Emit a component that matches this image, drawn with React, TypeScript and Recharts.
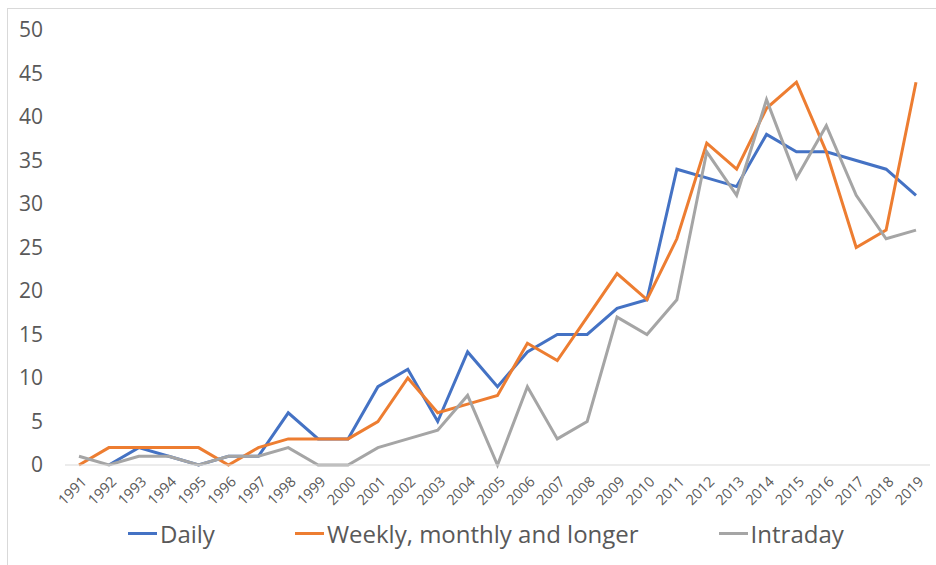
import React from 'react';
import { LineChart, Line, XAxis, YAxis, Legend } from 'recharts';

const years = [
  '1991', '1992', '1993', '1994', '1995', '1996', '1997', '1998', '1999', '2000',
  '2001', '2002', '2003', '2004', '2005', '2006', '2007', '2008', '2009', '2010',
  '2011', '2012', '2013', '2014', '2015', '2016', '2017', '2018', '2019',
];
// no Daily value for 1991 in the source
const daily = [null, 0, 2, 1, 0, 1, 1, 6, 3, 3, 9, 11, 5, 13, 9, 13, 15, 15, 18, 19, 34, 33, 32, 38, 36, 36, 35, 34, 31];
const weekly = [0, 2, 2, 2, 2, 0, 2, 3, 3, 3, 5, 10, 6, 7, 8, 14, 12, 17, 22, 19, 26, 37, 34, 41, 44, 36, 25, 27, 44];
const intraday = [1, 0, 1, 1, 0, 1, 1, 2, 0, 0, 2, 3, 4, 8, 0, 9, 3, 5, 17, 15, 19, 36, 31, 42, 33, 39, 31, 26, 27];
const yTicks = [0, 5, 10, 15, 20, 25, 30, 35, 40, 45, 50];

const SERIES = [
  { key: 'daily', name: 'Daily', color: '#4472C4' },
  { key: 'weekly', name: 'Weekly, monthly and longer', color: '#ED7D31' },
  { key: 'intraday', name: 'Intraday', color: '#A5A5A5' },
];

const FONT = '"Open Sans", "Noto Sans", sans-serif';
const TEXT = '#595959';

const chartData = years.map((year, i) => ({
  year,
  daily: daily[i],
  weekly: weekly[i],
  intraday: intraday[i],
}));

const YearTick = (props: any) => {
  const { x, y, payload } = props;
  return (
    <g transform={`translate(${x + 5},${y + 14})`}>
      <text
        textAnchor="end"
        transform="rotate(-45)"
        dy="0.35em"
        fill={TEXT}
        fontSize={14.5}
        fontFamily={FONT}
      >
        {payload.value}
      </text>
    </g>
  );
};

const LegendBox = () => (
  <div
    style={{
      display: 'flex',
      alignItems: 'center',
      height: 36,
      paddingLeft: 128,
      fontFamily: FONT,
      fontSize: 24,
      color: TEXT,
    }}
  >
    {SERIES.map((s, i) => (
      <div key={s.key} style={{ display: 'flex', alignItems: 'center', marginRight: i < 2 ? 80 : 0 }}>
        <span style={{ display: 'inline-block', width: 29, height: 3, background: s.color, marginRight: 3 }} />
        <span>{s.name}</span>
      </div>
    ))}
  </div>
);

export default function App() {
  return (
    <div style={{ position: 'absolute', left: 0, top: 0, width: 936, height: 565, overflow: 'hidden', background: '#fff' }}>
      <div
        style={{
          position: 'absolute',
          left: 7,
          top: 8,
          width: 960,
          height: 600,
          borderTop: '1px solid #D9D9D9',
          borderLeft: '1px solid #D9D9D9',
        }}
      />
      <LineChart
        width={936}
        height={565}
        data={chartData}
        margin={{ top: 30, right: 6, left: 0, bottom: 14 }}
      >
        <XAxis
          dataKey="year"
          interval={0}
          height={50}
          padding={{ left: 14, right: 14 }}
          axisLine={{ stroke: '#D9D9D9', strokeWidth: 1 }}
          tickLine={false}
          tickSize={0}
          tickMargin={0}
          tick={<YearTick />}
        />
        <YAxis
          domain={[0, 50]}
          ticks={yTicks}
          interval={0}
          width={65}
          axisLine={false}
          tickLine={false}
          tickSize={0}
          tickMargin={22}
          tick={{ fill: TEXT, fontSize: 21, fontFamily: FONT }}
        />
        <Legend verticalAlign="bottom" content={<LegendBox />} wrapperStyle={{ left: 0, width: 936 }} />
        {SERIES.map((s) => (
          <Line
            key={s.key}
            type="linear"
            dataKey={s.key}
            name={s.name}
            stroke={s.color}
            strokeWidth={3}
            dot={false}
            activeDot={false}
            isAnimationActive={false}
          />
        ))}
      </LineChart>
    </div>
  );
}
